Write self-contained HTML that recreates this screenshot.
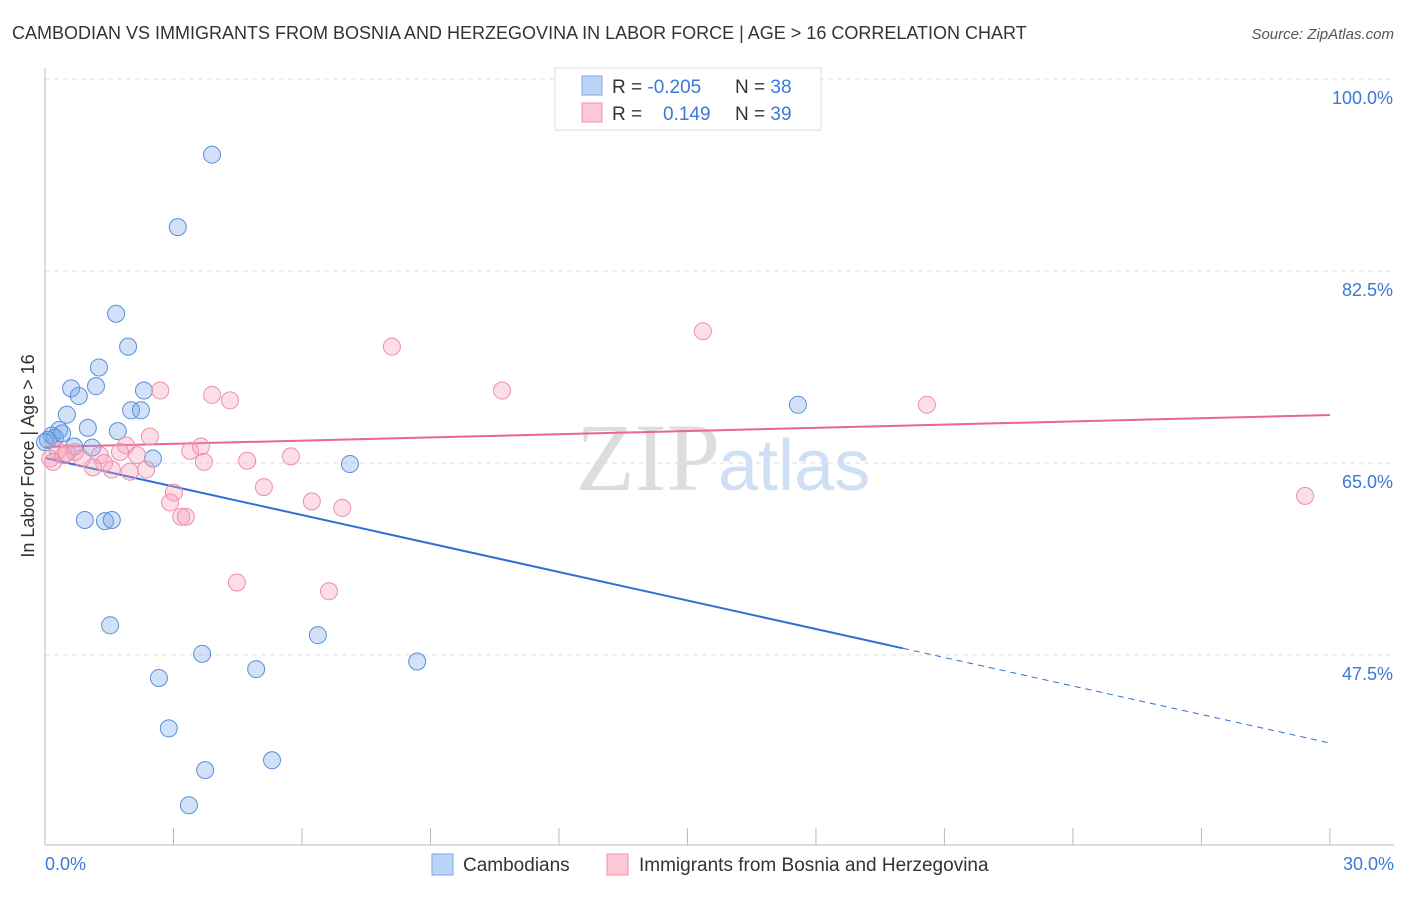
<!DOCTYPE html>
<html><head><meta charset="utf-8"><style>
body{margin:0;background:#fff;font-family:"Liberation Sans",sans-serif}
</style></head><body>
<svg width="1406" height="892" xmlns="http://www.w3.org/2000/svg" font-family="Liberation Sans, sans-serif">
<text x="12" y="39" font-size="18" fill="#333">CAMBODIAN VS IMMIGRANTS FROM BOSNIA AND HERZEGOVINA IN LABOR FORCE | AGE &gt; 16 CORRELATION CHART</text>
<text x="1394" y="39" font-size="15" fill="#555" font-style="italic" text-anchor="end">Source: ZipAtlas.com</text>
<g id="grid"></g>
<text x="720" y="490" font-size="96" fill="#ddd" text-anchor="end" font-family="Liberation Serif, serif">ZIP</text>
<text x="718" y="490" font-size="72" fill="#cfe0f5">atlas</text>
<line x1="45" y1="68" x2="45" y2="845" stroke="#bbb"/>
<line x1="45" y1="845" x2="1394" y2="845" stroke="#bbb"/>
<text x="34" y="456" font-size="18" fill="#333" text-anchor="middle" transform="rotate(-90 34 456)">In Labor Force | Age &gt; 16</text>
<text x="45" y="870" font-size="18" fill="#3b78d8">0.0%</text>
<text x="1394" y="870" font-size="18" fill="#3b78d8" text-anchor="end">30.0%</text>
<g id="trends"></g>
<g id="pts"></g>
<g>
<rect x="555" y="68" width="266" height="62" fill="#fff" stroke="#ddd"/>
<rect x="582" y="76" width="20" height="19" fill="#bcd5f5" stroke="#7aa7e6"/>
<rect x="582" y="103" width="20" height="19" fill="#fcc8d6" stroke="#f08fac"/>
<text x="612" y="93" font-size="19" fill="#333">R = <tspan fill="#3b78d8">-0.205</tspan></text>
<text x="735" y="93" font-size="19" fill="#333">N = <tspan fill="#3b78d8">38</tspan></text>
<text x="612" y="120" font-size="19" fill="#333">R = <tspan fill="#3b78d8" x="663">0.149</tspan></text>
<text x="735" y="120" font-size="19" fill="#333">N = <tspan fill="#3b78d8">39</tspan></text>
</g>
<g>
<rect x="432" y="854" width="21" height="21" fill="#bcd5f5" stroke="#7aa7e6"/>
<text x="463" y="871" font-size="19" fill="#333">Cambodians</text>
<rect x="607" y="854" width="21" height="21" fill="#fcc8d6" stroke="#f08fac"/>
<text x="639" y="871" font-size="19" fill="#333">Immigrants from Bosnia and Herzegovina</text>
</g>
</svg>
<script>
const yTicks=[100,82.5,65,47.5];
const yTickLabels=["100.0%","82.5%","65.0%","47.5%"];
const xTicks=[0,3,6,9,12,15,18,21,24,27,30];
const blueX=[3.9,3.1,1.66,1.94,1.26,0.61,1.19,0.79,2.31,2.01,2.24,0.51,1.0,1.7,0.33,0.16,0.23,0.68,1.1,2.52,7.12,0.93,1.4,1.56,1.52,6.37,3.67,4.93,8.69,2.66,2.89,3.74,5.3,3.36,17.58,0.07,0.4,0.0];
const blueY=[93.1,86.5,78.6,75.6,73.7,71.8,72.0,71.1,71.6,69.8,69.8,69.4,68.2,67.9,68.0,67.5,67.3,66.5,66.4,65.4,64.9,59.8,59.7,59.8,50.2,49.3,47.6,46.2,46.9,45.4,40.8,37.0,37.9,33.8,70.3,67.1,67.7,66.9];
const pinkX=[15.36,8.1,10.67,2.69,3.9,4.32,20.59,2.45,1.89,0.3,0.7,1.28,2.15,3.39,3.64,5.74,4.72,3.71,1.38,1.12,1.56,1.98,2.36,5.11,3.01,6.23,6.94,2.92,3.18,3.29,4.48,6.63,29.42,0.12,0.19,0.44,0.86,1.75,0.51];
const pinkY=[77.0,75.6,71.6,71.6,71.2,70.7,70.3,67.4,66.6,66.1,66.0,65.7,65.7,66.1,66.5,65.6,65.2,65.1,65.0,64.6,64.4,64.2,64.4,62.8,62.3,61.5,60.9,61.4,60.1,60.1,54.1,53.3,62.0,65.4,65.1,65.7,65.4,66.0,65.9];
const blueTrend=[65.45,39.47], blueSolidEnd=20.03;
const pinkTrend=[66.45,69.37];
const NS="http://www.w3.org/2000/svg";
const X=v=>45+v*42.83, Y=v=>79+(100-v)*10.97;
function mk(t,a,p){const e=document.createElementNS(NS,t);for(const k in a)e.setAttribute(k,a[k]);document.getElementById(p).appendChild(e);return e;}
yTicks.forEach((t,i)=>{
 const l=mk('line',{x1:45,x2:1394,y1:Y(t),y2:Y(t),stroke:'#ddd','stroke-dasharray':'5,4'},'grid');
 
 
 const tx=mk('text',{x:1393,y:Y(t)+25,'font-size':18,fill:'#3b78d8','text-anchor':'end'},'grid');
 tx.textContent=yTickLabels[i];
 
 
});
xTicks.forEach(t=>{
 const l=mk('line',{x1:X(t),x2:X(t),y1:828,y2:845,stroke:'#bbb'},'grid');
 
 
});
const lin=(a,x)=>a[0]+(a[1]-a[0])*x/30;
let e=mk('line',{x1:X(0),y1:Y(lin(blueTrend,0)),x2:X(blueSolidEnd),y2:Y(lin(blueTrend,blueSolidEnd)),stroke:'#2f6fd6','stroke-width':2},'trends');


e=mk('line',{x1:X(blueSolidEnd),y1:Y(lin(blueTrend,blueSolidEnd)),x2:X(30),y2:Y(lin(blueTrend,30)),stroke:'#2f6fd6','stroke-width':1,'stroke-dasharray':'6,5'},'trends');


e=mk('line',{x1:X(0),y1:Y(pinkTrend[0]),x2:X(30),y2:Y(pinkTrend[1]),stroke:'#e8668f','stroke-width':2},'trends');


blueX.forEach((x,i)=>{
 const c=mk('circle',{cx:X(x),cy:Y(blueY[i]),r:8.5,fill:'rgba(120,170,235,0.35)',stroke:'#5b8fd9','stroke-width':1},'pts');
 
 
});
pinkX.forEach((x,i)=>{
 const c=mk('circle',{cx:X(x),cy:Y(pinkY[i]),r:8.5,fill:'rgba(245,160,185,0.35)',stroke:'#ec8fab','stroke-width':1},'pts');
 
 
});
</script>
</body></html>
